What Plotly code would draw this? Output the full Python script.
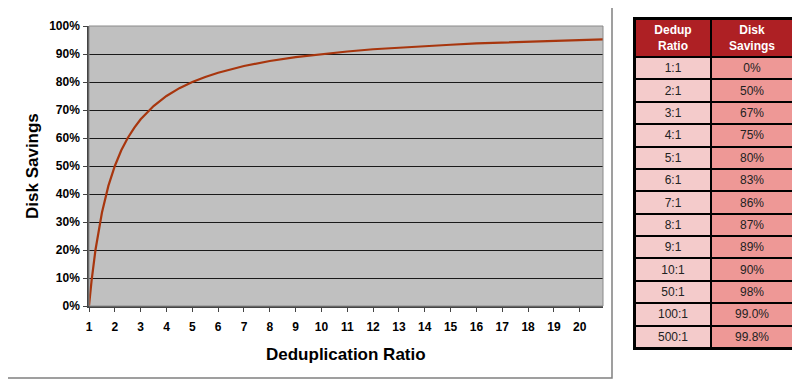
import plotly.graph_objects as go

# ---- data ----
dedup_x = [1, 1.1, 1.25, 1.5, 1.75, 2, 2.25, 2.5, 2.75, 3, 3.5, 4, 4.5, 5, 5.5, 6,
           7, 8, 9, 10, 11, 12, 13, 14, 15, 16, 17, 18, 19, 20, 20.9]
savings_y = [0, 9.1, 20, 33.3, 42.9, 50, 55.6, 60, 63.6, 66.7, 71.4, 75, 77.8, 80, 81.8, 83.3,
             85.7, 87.5, 88.9, 90, 90.9, 91.7, 92.3, 92.9, 93.3, 93.8, 94.1, 94.4, 94.7, 95, 95.2]

y_tick_vals = [0, 10, 20, 30, 40, 50, 60, 70, 80, 90, 100]
y_tick_text = ["0%", "10%", "20%", "30%", "40%", "50%", "60%", "70%", "80%", "90%", "100%"]
x_tick_vals = list(range(1, 21))

table_header = ["Dedup<br>Ratio", "Disk<br>Savings"]
table_ratios = ["1:1", "2:1", "3:1", "4:1", "5:1", "6:1", "7:1", "8:1", "9:1", "10:1",
                "50:1", "100:1", "500:1"]
table_savings = ["0%", "50%", "67%", "75%", "80%", "83%", "86%", "87%", "89%", "90%",
                 "98%", "99.0%", "99.8%"]

# page body has an 8px margin: figure is placed at (8, 8) in the window
OFF = 8
W, H = 800 - OFF, 387 - OFF
def px(x): return (x - OFF) / W
def py(y): return 1 - (y - OFF) / H

FONT = "Liberation Sans, Arial, sans-serif"

fig = go.Figure()

fig.add_trace(go.Scatter(
    x=dedup_x, y=savings_y, mode="lines",
    line=dict(color="#A8360E", width=2.2),
    xaxis="x", yaxis="y", showlegend=False, hoverinfo="skip",
))

# ---- table drawn as a heatmap on its own (pixel-unit) axes ----
T_LEFT, T_RIGHT, T_TOP, T_BOTTOM = 633, 795, 17, 350
t_w = T_RIGHT - T_LEFT
t_h = T_BOTTOM - T_TOP
header_h = 38
n_rows = len(table_ratios)
row_h = (t_h - 2 - 2 - header_h) / n_rows
col_edges = [2, 78, t_w - 2]
row_edges = [2, 2 + header_h] + [2 + header_h + row_h * (i + 1) for i in range(n_rows)]

cell_z = [[0, 0]] + [[1, 2] for _ in table_ratios]
header_cells = ["<span style='color:white'><b>%s</b></span>" % h for h in table_header]
cell_text = [header_cells] + [[r, s] for r, s in zip(table_ratios, table_savings)]

fig.add_trace(go.Heatmap(
    x=col_edges, y=row_edges, z=cell_z, text=cell_text,
    texttemplate="%{text}",
    textfont=dict(family=FONT, size=12, color="#222222"),
    colorscale=[[0, "#AE2024"], [0.5, "#F4CBCB"], [1, "#EE9896"]],
    zmin=0, zmax=2, showscale=False,
    xgap=2, ygap=2,
    xaxis="x2", yaxis="y2", hoverinfo="skip",
))

fig.update_layout(
    width=W, height=H,
    margin=dict(l=0, r=0, t=0, b=0),
    paper_bgcolor="white",
    plot_bgcolor="#C0C0C0",
    font=dict(family=FONT, color="black"),
    xaxis=dict(
        domain=[px(89), px(603)], range=[1, 20.9],
        tickvals=x_tick_vals, ticks="outside", ticklen=4, tickcolor="#444",
        ticklabelstandoff=5,
        tickfont=dict(family=FONT, size=12, color="black", weight="bold"),
        showgrid=False, zeroline=False,
        showline=True, linecolor="#444", linewidth=1.5,
        automargin=False, fixedrange=True,
    ),
    yaxis=dict(
        domain=[py(306), py(26)], range=[0, 100],
        tickvals=y_tick_vals, ticktext=y_tick_text,
        ticks="outside", ticklen=4, tickcolor="#444",
        ticklabelstandoff=1,
        tickfont=dict(family=FONT, size=12, color="black", weight="bold"),
        showgrid=True, gridcolor="#1a1a1a", gridwidth=1,
        zeroline=False,
        showline=True, linecolor="#444", linewidth=1.5,
        automargin=False, fixedrange=True,
    ),
    xaxis2=dict(
        domain=[px(T_LEFT), px(T_RIGHT)], range=[0, t_w], anchor="y2",
        visible=False, fixedrange=True,
    ),
    yaxis2=dict(
        domain=[py(T_BOTTOM), py(T_TOP)], range=[t_h, 0], anchor="x2",
        visible=False, fixedrange=True,
    ),
    shapes=[
        # chart frame
        dict(type="rect", xref="paper", yref="paper",
             x0=px(5), x1=px(612), y0=py(378), y1=py(7),
             line=dict(color="#808080", width=1.5), layer="below"),
        # plot area border (top/right)
        dict(type="rect", xref="paper", yref="paper",
             x0=px(89), x1=px(603), y0=py(306), y1=py(26),
             line=dict(color="#8a8a8a", width=1), layer="above"),
        # table black background (shows through cell gaps as borders)
        dict(type="rect", xref="x2", yref="y2",
             x0=0, x1=t_w, y0=0, y1=t_h,
             fillcolor="black", line=dict(width=0), layer="below"),
    ],
    annotations=[
        dict(text="<b>Deduplication Ratio</b>", xref="paper", yref="paper",
             x=px(346), y=py(354), showarrow=False,
             font=dict(family=FONT, size=17, color="black"),
             xanchor="center", yanchor="middle"),
        dict(text="<b>Disk Savings</b>", xref="paper", yref="paper",
             x=px(32), y=py(166), showarrow=False, textangle=-90,
             font=dict(family=FONT, size=17, color="black"),
             xanchor="center", yanchor="middle"),
    ],
)

fig.write_html("out.html")
